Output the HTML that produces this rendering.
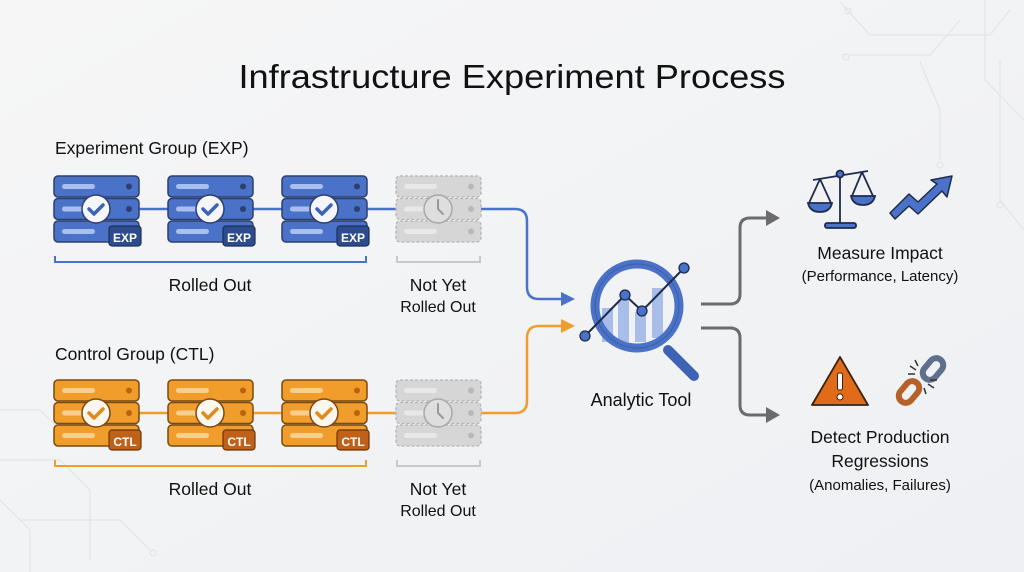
<!DOCTYPE html>
<html><head><meta charset="utf-8"><style>
html,body{margin:0;padding:0;width:1024px;height:572px;overflow:hidden;background:#f3f4f6}
svg{display:block}
text{font-family:"Liberation Sans",sans-serif;fill:#111}
</style></head><body>
<svg width="1024" height="572" viewBox="0 0 1024 572" xmlns="http://www.w3.org/2000/svg">
<defs>
<linearGradient id="bg" x1="0" y1="0" x2="1" y2="1"><stop offset="0" stop-color="#f6f6f7"/><stop offset="1" stop-color="#eef0f3"/></linearGradient>
<g id="srvB">
 <rect x="0" y="0" width="85" height="21" rx="4" fill="#4a72c8" stroke="#2c3f6e" stroke-width="1.5"/>
 <rect x="0" y="22.5" width="85" height="21" rx="4" fill="#4a72c8" stroke="#2c3f6e" stroke-width="1.5"/>
 <rect x="0" y="45" width="85" height="21" rx="4" fill="#4a72c8" stroke="#2c3f6e" stroke-width="1.5"/>
 <rect x="8" y="8" width="33" height="5" rx="2.5" fill="#a9bff0"/>
 <rect x="8" y="30.5" width="22" height="5" rx="2.5" fill="#a9bff0"/>
 <rect x="8" y="53" width="33" height="5" rx="2.5" fill="#a9bff0"/>
 <circle cx="75" cy="10.5" r="3" fill="#2c3f6e"/><circle cx="75" cy="33" r="3" fill="#2c3f6e"/>
 <circle cx="42" cy="33" r="14" fill="#f4f6fb" stroke="#2c3f6e" stroke-width="1.5"/>
 <path d="M35 33 l5 5 l9 -9" fill="none" stroke="#3d63b8" stroke-width="3.5" stroke-linecap="round" stroke-linejoin="round"/>
 <rect x="55" y="50" width="32" height="20" rx="3" fill="#2d4c8e" stroke="#1e2f55" stroke-width="1.2"/>
</g>
<g id="srvO">
 <rect x="0" y="0" width="85" height="21" rx="4" fill="#f19d2c" stroke="#7a4a10" stroke-width="1.5"/>
 <rect x="0" y="22.5" width="85" height="21" rx="4" fill="#f19d2c" stroke="#7a4a10" stroke-width="1.5"/>
 <rect x="0" y="45" width="85" height="21" rx="4" fill="#f19d2c" stroke="#7a4a10" stroke-width="1.5"/>
 <rect x="8" y="8" width="33" height="5" rx="2.5" fill="#f8cf8f"/>
 <rect x="8" y="30.5" width="22" height="5" rx="2.5" fill="#f8cf8f"/>
 <rect x="8" y="53" width="33" height="5" rx="2.5" fill="#f8cf8f"/>
 <circle cx="75" cy="10.5" r="3" fill="#b8620e"/><circle cx="75" cy="33" r="3" fill="#b8620e"/>
 <circle cx="42" cy="33" r="14" fill="#fbf6ee" stroke="#7a4a10" stroke-width="1.5"/>
 <path d="M35 33 l5 5 l9 -9" fill="none" stroke="#e08a1c" stroke-width="3.5" stroke-linecap="round" stroke-linejoin="round"/>
 <rect x="55" y="50" width="32" height="20" rx="3" fill="#c0611a" stroke="#6e3408" stroke-width="1.2"/>
</g>
<g id="srvG">
 <rect x="0" y="0" width="85" height="21" rx="4" fill="#d6d6d6" stroke="#b4b4b4" stroke-width="1.3" stroke-dasharray="3 2"/>
 <rect x="0" y="22.5" width="85" height="21" rx="4" fill="#d6d6d6" stroke="#b4b4b4" stroke-width="1.3" stroke-dasharray="3 2"/>
 <rect x="0" y="45" width="85" height="21" rx="4" fill="#d6d6d6" stroke="#b4b4b4" stroke-width="1.3" stroke-dasharray="3 2"/>
 <rect x="8" y="8" width="33" height="5" rx="2.5" fill="#e8e8e8"/>
 <rect x="8" y="30.5" width="22" height="5" rx="2.5" fill="#e8e8e8"/>
 <rect x="8" y="53" width="33" height="5" rx="2.5" fill="#e8e8e8"/>
 <circle cx="75" cy="10.5" r="3" fill="#b8b8b8"/><circle cx="75" cy="33" r="3" fill="#b8b8b8"/><circle cx="75" cy="55.5" r="3" fill="#b8b8b8"/>
 <circle cx="42" cy="33" r="14" fill="#dedede" stroke="#a8a8a8" stroke-width="1.5"/>
 <path d="M42 24 v9 l5 5" fill="none" stroke="#999" stroke-width="2" stroke-linecap="round"/>
</g>
</defs>
<rect width="1024" height="572" fill="url(#bg)"/>
<g fill="none" stroke="#e2e4e7" stroke-width="1.2">
 <path d="M840 2 L870 35 H990 L1010 10"/><path d="M850 55 H930 L960 20"/><path d="M920 62 L940 110 V160"/>
 <path d="M985 0 V80 L1024 120"/><path d="M1000 60 V200 L1024 230"/>
 <path d="M0 410 H40 L70 440 H130"/><path d="M0 460 H60 L90 490 V560"/><path d="M20 520 H120 L150 550"/>
 <path d="M0 500 L30 530 V572"/>
 <circle cx="848" cy="11" r="3"/><circle cx="846" cy="57" r="3"/><circle cx="940" cy="165" r="3"/><circle cx="1000" cy="205" r="3"/>
 <circle cx="134" cy="440" r="3"/><circle cx="153" cy="553" r="3"/>
</g>
<text x="512" y="88" font-size="33" text-anchor="middle" textLength="547" lengthAdjust="spacingAndGlyphs">Infrastructure Experiment Process</text>

<text x="55" y="154" font-size="17.5">Experiment Group (EXP)</text>
<line x1="139" y1="209" x2="480" y2="209" stroke="#4a72c8" stroke-width="2.5"/>
<path d="M480 209 H515 Q527 209 527 221 V287 Q527 299 539 299 H565" fill="none" stroke="#4a72c8" stroke-width="2.5"/>
<path d="M575 299 L561 292 V306 Z" fill="#4a72c8"/>
<use href="#srvB" x="54" y="176"/><use href="#srvB" x="168" y="176"/><use href="#srvB" x="282" y="176"/><use href="#srvG" x="396" y="176"/>
<g font-size="12" font-weight="bold" text-anchor="middle"><text x="125" y="242" style="fill:#fff">EXP</text><text x="239" y="242" style="fill:#fff">EXP</text><text x="353" y="242" style="fill:#fff">EXP</text></g>
<path d="M55 256 V262 H366 V256" fill="none" stroke="#4a72c8" stroke-width="2"/>
<path d="M397 256 V262 H480 V256" fill="none" stroke="#c8c8c8" stroke-width="2"/>
<text x="210" y="291" font-size="17.5" text-anchor="middle">Rolled Out</text>
<text x="438" y="291" font-size="17.5" text-anchor="middle">Not Yet</text>
<text x="438" y="312" font-size="16" text-anchor="middle">Rolled Out</text>

<text x="55" y="360" font-size="17.5">Control Group (CTL)</text>
<line x1="139" y1="413" x2="480" y2="413" stroke="#f19d2c" stroke-width="2.5"/>
<path d="M480 413 H515 Q527 413 527 401 V338 Q527 326 539 326 H565" fill="none" stroke="#f19d2c" stroke-width="2.5"/>
<path d="M575 326 L561 319 V333 Z" fill="#f19d2c"/>
<use href="#srvO" x="54" y="380"/><use href="#srvO" x="168" y="380"/><use href="#srvO" x="282" y="380"/><use href="#srvG" x="396" y="380"/>
<g font-size="12" font-weight="bold" text-anchor="middle"><text x="125" y="446" style="fill:#fff">CTL</text><text x="239" y="446" style="fill:#fff">CTL</text><text x="353" y="446" style="fill:#fff">CTL</text></g>
<path d="M55 460 V466 H366 V460" fill="none" stroke="#f19d2c" stroke-width="2"/>
<path d="M397 460 V466 H480 V460" fill="none" stroke="#c8c8c8" stroke-width="2"/>
<text x="210" y="495" font-size="17.5" text-anchor="middle">Rolled Out</text>
<text x="438" y="495" font-size="17.5" text-anchor="middle">Not Yet</text>
<text x="438" y="516" font-size="16" text-anchor="middle">Rolled Out</text>

<g>
 <rect x="602" y="308" width="11" height="34" fill="#a8bde8"/>
 <rect x="618" y="300" width="11" height="42" fill="#a8bde8"/>
 <rect x="635" y="312" width="11" height="30" fill="#a8bde8"/>
 <rect x="652" y="288" width="11" height="50" fill="#a8bde8"/>
 <line x1="668" y1="350" x2="694" y2="376" stroke="#3e63b5" stroke-width="10" stroke-linecap="round"/>
 <circle cx="637" cy="306" r="42" fill="none" stroke="#4a72c8" stroke-width="9"/>
 <circle cx="637" cy="306" r="42" fill="none" stroke="#2c3f6e" stroke-width="1" opacity=".4"/>
 <polyline points="585,336 625,295 642,311 684,268" fill="none" stroke="#1e2b4a" stroke-width="2"/>
 <circle cx="585" cy="336" r="5" fill="#4a72c8" stroke="#1e2b4a" stroke-width="1.3"/>
 <circle cx="625" cy="295" r="5" fill="#4a72c8" stroke="#1e2b4a" stroke-width="1.3"/>
 <circle cx="642" cy="311" r="5" fill="#4a72c8" stroke="#1e2b4a" stroke-width="1.3"/>
 <circle cx="684" cy="268" r="5" fill="#4a72c8" stroke="#1e2b4a" stroke-width="1.3"/>
</g>
<text x="641" y="406" font-size="18" text-anchor="middle">Analytic Tool</text>

<path d="M701 304 H730 Q740 304 740 294 V228 Q740 218 750 218 H768" fill="none" stroke="#6b6b6b" stroke-width="3"/>
<path d="M780 218 L766 210 V226 Z" fill="#6b6b6b"/>
<path d="M701 328 H730 Q740 328 740 338 V405 Q740 415 750 415 H768" fill="none" stroke="#6b6b6b" stroke-width="3"/>
<path d="M780 415 L766 407 V423 Z" fill="#6b6b6b"/>

<g stroke="#1e2b4a" stroke-width="1.8" fill="none">
 <line x1="840" y1="174" x2="840" y2="226"/>
 <line x1="813" y1="180" x2="868" y2="171"/>
 <path d="M820 179 L809 203 M820 179 L831 203 M862 172 L852 196 M862 172 L873 196"/>
 <path d="M808 203 H832 Q830 212 820 212 Q810 212 808 203 Z" fill="#4a72c8"/>
 <path d="M851 196 H875 Q873 205 863 205 Q853 205 851 196 Z" fill="#4a72c8"/>
 <rect x="825" y="223" width="31" height="5" rx="2" fill="#4a72c8"/>
 <circle cx="840" cy="174" r="3.5" fill="#4a72c8"/>
</g>
<path d="M890 213 L909 194 L918 202 L937 184 L931 180 L952 176 L947 197 L942 191 L918 214 L909 206 L895 219 Z" fill="#4a72c8" stroke="#1e2b4a" stroke-width="1.5" stroke-linejoin="round"/>
<text x="880" y="259" font-size="17.5" text-anchor="middle">Measure Impact</text>
<text x="880" y="281" font-size="15" text-anchor="middle">(Performance, Latency)</text>

<path d="M840 357 L868 405 H812 Z" fill="#e06c1a" stroke="#3a2310" stroke-width="1.8" stroke-linejoin="round"/>
<rect x="837.5" y="373" width="5" height="17" rx="2" fill="#fff" stroke="#3a2310" stroke-width="1"/>
<circle cx="840" cy="397" r="3" fill="#fff" stroke="#3a2310" stroke-width="1"/>
<g fill="none" stroke-width="6" stroke-linecap="round">
 <rect x="926" y="357" width="14" height="24" rx="7" transform="rotate(40 933 369)" stroke="#5f6f8c"/>
 <rect x="902" y="380" width="14" height="24" rx="7" transform="rotate(40 909 392)" stroke="#b5612a"/>
</g>
<g stroke="#333" stroke-width="1.5"><line x1="910" y1="366" x2="916" y2="370"/><line x1="915" y1="360" x2="918" y2="366"/><line x1="908" y1="374" x2="915" y2="374"/><line x1="928" y1="384" x2="934" y2="388"/><line x1="924" y1="388" x2="926" y2="394"/><line x1="930" y1="380" x2="937" y2="380"/></g>
<text x="880" y="443" font-size="17.5" text-anchor="middle">Detect Production</text>
<text x="880" y="467" font-size="17.5" text-anchor="middle">Regressions</text>
<text x="880" y="490" font-size="15" text-anchor="middle">(Anomalies, Failures)</text>
</svg>
</body></html>
